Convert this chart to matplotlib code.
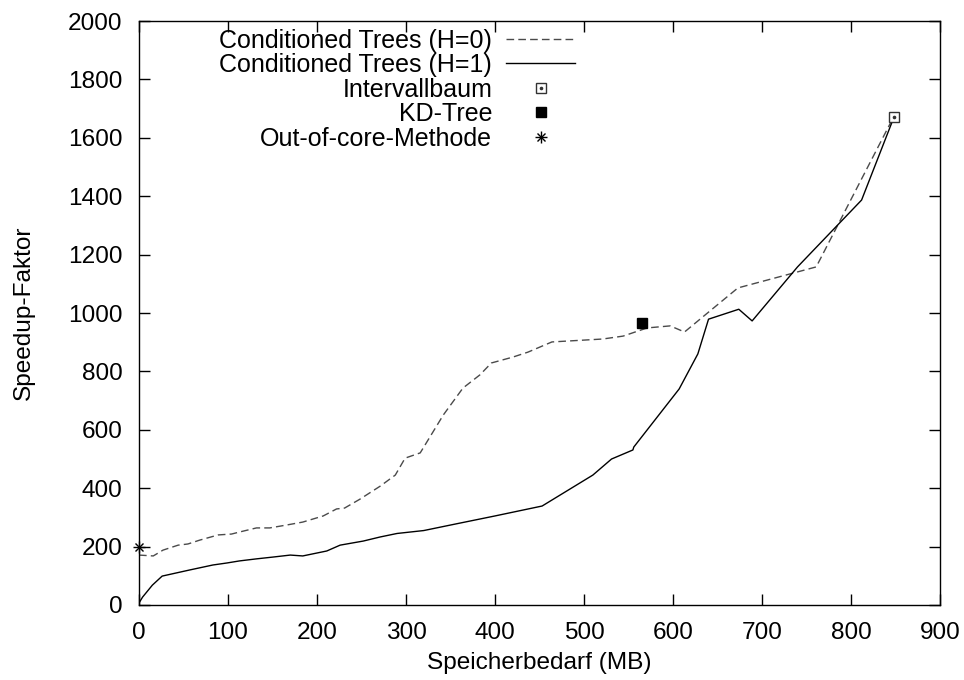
import matplotlib
matplotlib.use("Agg")
import matplotlib.pyplot as plt
from matplotlib.legend_handler import HandlerTuple

plt.rcParams['font.family'] = ['Liberation Sans', 'DejaVu Sans']

# Conditioned Trees, H=0
h0_mb = [0, 16, 27, 44, 55, 68, 89, 104, 113, 132, 147, 166, 184, 207, 222, 231,
         248, 271, 288, 299, 316, 342, 364, 383, 396, 420, 437, 464, 521, 544,
         571, 597, 613, 636, 673, 761, 848]
h0_speedup = [171, 168, 188, 205, 209, 222, 240, 243, 250, 264, 264, 274, 284, 305,
              329, 332, 362, 407, 445, 503, 521, 651, 743, 788, 829, 849, 866, 901,
              911, 921, 949, 956, 935, 993, 1086, 1158, 1672]

# Conditioned Trees, H=1
h1_mb = [0, 4, 15, 26, 57, 83, 99, 113, 132, 150, 170, 184, 211, 226, 252, 271,
         290, 320, 355, 400, 453, 510, 531, 555, 556, 607, 628, 640, 674, 689,
         740, 812, 848]
h1_speedup = [7, 27, 68, 99, 120, 137, 144, 151, 158, 164, 171, 168, 185, 205, 219,
              233, 245, 255, 277, 305, 339, 445, 500, 531, 541, 740, 860, 979, 1013,
              973, 1158, 1387, 1668]

# Single reference methods
interval_mb, interval_speedup = [848], [1672]
kdtree_mb, kdtree_speedup = [565], [965]
ooc_mb, ooc_speedup = [0], [200]

x_ticks = [0, 100, 200, 300, 400, 500, 600, 700, 800, 900]
y_ticks = [0, 200, 400, 600, 800, 1000, 1200, 1400, 1600, 1800, 2000]

fig = plt.figure(figsize=(9.64, 6.8), dpi=100)
ax = fig.add_axes([0.1442, 0.1103, 0.8308, 0.8587])

fs = 17.6

l0, = ax.plot(h0_mb, h0_speedup, color='#4a4a4a', lw=1.0, dashes=(5.5, 3))
l1, = ax.plot(h1_mb, h1_speedup, color='black', lw=1.0)

ib_box, = ax.plot(interval_mb, interval_speedup, ls='none', marker='s', ms=6.5,
                  mfc='white', mec='#333333', mew=1.0, clip_on=False)
ib_dot, = ax.plot(interval_mb, interval_speedup, ls='none', marker='o', ms=1.6,
                  mfc='#333333', mec='#333333', clip_on=False)
kd, = ax.plot(kdtree_mb, kdtree_speedup, ls='none', marker='s', ms=6.5,
              mfc='black', mec='black', clip_on=False)
oc_p, = ax.plot(ooc_mb, ooc_speedup, ls='none', marker='+', ms=8, mew=1.0,
                color='black', clip_on=False)
oc_x, = ax.plot(ooc_mb, ooc_speedup, ls='none', marker='x', ms=6, mew=1.0,
                color='black', clip_on=False)

ax.set_xlim(x_ticks[0], x_ticks[-1])
ax.set_ylim(y_ticks[0], y_ticks[-1])
ax.set_xticks(x_ticks)
ax.set_yticks(y_ticks)
ax.tick_params(direction='in', length=8, width=1.0, top=True, right=True,
               labelsize=fs, pad=12)
for s in ax.spines.values():
    s.set_linewidth(1.0)

ax.set_xlabel('Speicherbedarf (MB)', fontsize=fs)
ax.xaxis.set_label_coords(0.5, -0.080)
ax.set_ylabel('Speedup-Faktor', fontsize=fs)
ax.yaxis.set_label_coords(-0.13, 0.5)

leg = ax.legend([l0, l1, (ib_box, ib_dot), kd, (oc_p, oc_x)],
                ['Conditioned Trees (H=0)', 'Conditioned Trees (H=1)',
                 'Intervallbaum', 'KD-Tree', 'Out-of-core-Methode'],
                handler_map={tuple: HandlerTuple(ndivide=1, pad=0)},
                loc='upper right', bbox_to_anchor=(0.545, 0.987),
                frameon=False, markerfirst=False, fontsize=18,
                handlelength=2.77, handletextpad=0.56, labelspacing=0.02,
                borderpad=0.0, borderaxespad=0.0)

fig.savefig('out.png', dpi=100)
